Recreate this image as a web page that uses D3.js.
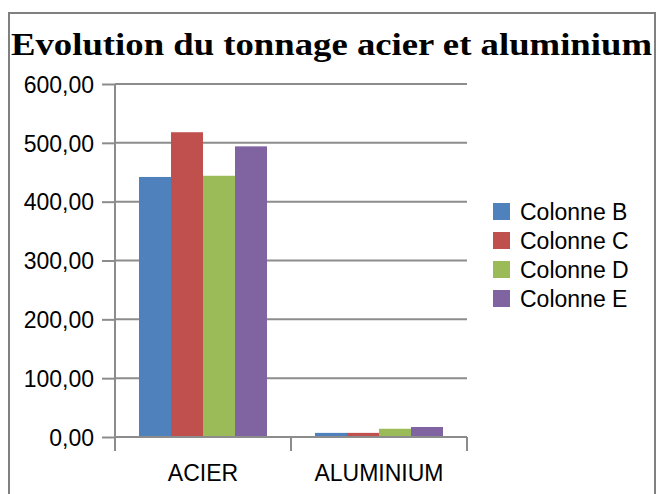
<!DOCTYPE html>
<html>
<head>
<meta charset="utf-8">
<style>
  body { margin: 0; background: #fff; }
  svg { display: block; }
  .tick text { font-family: "Liberation Sans", Arial, sans-serif; font-size: 23px; fill: #000; }
  .grid line { stroke: #8c8c8c; stroke-width: 2; }
  .legend text { font-family: "Liberation Sans", Arial, sans-serif; font-size: 23px; }
</style>
</head>
<body>
<svg width="657" height="494"></svg>
<script src="https://d3js.org/d3.v7.min.js"></script>
<script>
  // data
  const categories = ["ACIER", "ALUMINIUM"];
  const seriesNames = ["Colonne B", "Colonne C", "Colonne D", "Colonne E"];
  const colonneB = [442, 7];
  const colonneC = [518, 7];
  const colonneD = [444, 14];
  const colonneE = [494, 17];
  const yTicks = [0, 100, 200, 300, 400, 500, 600];
  const colors = ["#4f81bd", "#c0504d", "#9bbb59", "#8064a2"];

  const values = [colonneB, colonneC, colonneD, colonneE];

  const svg = d3.select("svg");

  // outer frame
  svg.append("path")
    .attr("d", "M9,494 V13 H655 V494")
    .attr("fill", "none")
    .attr("stroke", "#808080")
    .attr("stroke-width", 2);

  // title
  svg.append("text")
    .attr("x", 11)
    .attr("y", 55)
    .attr("textLength", 641)
    .attr("lengthAdjust", "spacingAndGlyphs")
    .style("font-family", "'Liberation Serif', 'DejaVu Serif', serif")
    .style("font-weight", "bold")
    .style("font-size", "31px")
    .text("Evolution du tonnage acier et aluminium");

  const plotL = 115, plotR = 467, plotT = 84, plotB = 437;

  const x0 = d3.scaleBand().domain(categories).range([plotL, plotR]).paddingInner(0).paddingOuter(0);
  const x1 = d3.scaleBand().domain(seriesNames).range([0, x0.bandwidth()]).paddingInner(0).paddingOuter(0.75);
  const y = d3.scaleLinear().domain([0, 600]).range([plotB, plotT]);

  // gridlines
  svg.append("g")
    .attr("class", "grid")
    .selectAll("line")
    .data(yTicks.filter(d => d > 0))
    .join("line")
    .attr("x1", plotL).attr("x2", plotR)
    .attr("y1", d => y(d)).attr("y2", d => y(d));

  // bars
  const g = svg.append("g");
  seriesNames.forEach((s, i) => {
    g.selectAll(null)
      .data(categories.map((c, j) => ({ c, v: values[i][j] })))
      .join("rect")
      .attr("x", d => x0(d.c) + x1(s))
      .attr("y", d => y(d.v))
      .attr("width", x1.bandwidth())
      .attr("height", d => y(0) - y(d.v))
      .attr("fill", colors[i]);
  });

  // y axis
  const yAxis = svg.append("g")
    .attr("transform", `translate(${plotL},0)`)
    .call(d3.axisLeft(y).tickValues(yTicks).tickSize(13).tickPadding(8)
      .tickFormat(d => d3.format(".2f")(d).replace(".", ",")));
  yAxis.selectAll(".tick line").attr("stroke", "#8c8c8c").attr("stroke-width", 2);
  yAxis.select(".domain").attr("stroke", "#8c8c8c").attr("stroke-width", 2).attr("d", `M0,${plotT}V${plotB}`);
  yAxis.selectAll(".tick text").attr("dy", "0.36em");

  // x axis
  const xAxis = svg.append("g")
    .attr("transform", `translate(0,${plotB})`);
  xAxis.append("line")
    .attr("x1", plotL).attr("x2", plotR)
    .attr("stroke", "#8c8c8c").attr("stroke-width", 2);
  xAxis.selectAll(".xt")
    .data([plotL, x0("ALUMINIUM"), plotR])
    .join("line")
    .attr("x1", d => d).attr("x2", d => d)
    .attr("y1", 0).attr("y2", 14)
    .attr("stroke", "#8c8c8c").attr("stroke-width", 2);
  xAxis.selectAll("text")
    .data(categories)
    .join("text")
    .attr("x", d => x0(d) + x0.bandwidth() / 2)
    .attr("y", 44)
    .attr("text-anchor", "middle")
    .style("font-family", "'Liberation Sans', Arial, sans-serif")
    .style("font-size", "23px")
    .text(d => d);

  // legend
  const legend = svg.append("g").attr("class", "legend");
  const items = legend.selectAll("g")
    .data(seriesNames)
    .join("g")
    .attr("transform", (d, i) => `translate(493,${203 + i * 29})`);
  items.append("rect")
    .attr("width", 17).attr("height", 17)
    .attr("fill", (d, i) => colors[i]);
  items.append("text")
    .attr("x", 27).attr("y", 17)
    .text(d => d);
</script>
</body>
</html>
